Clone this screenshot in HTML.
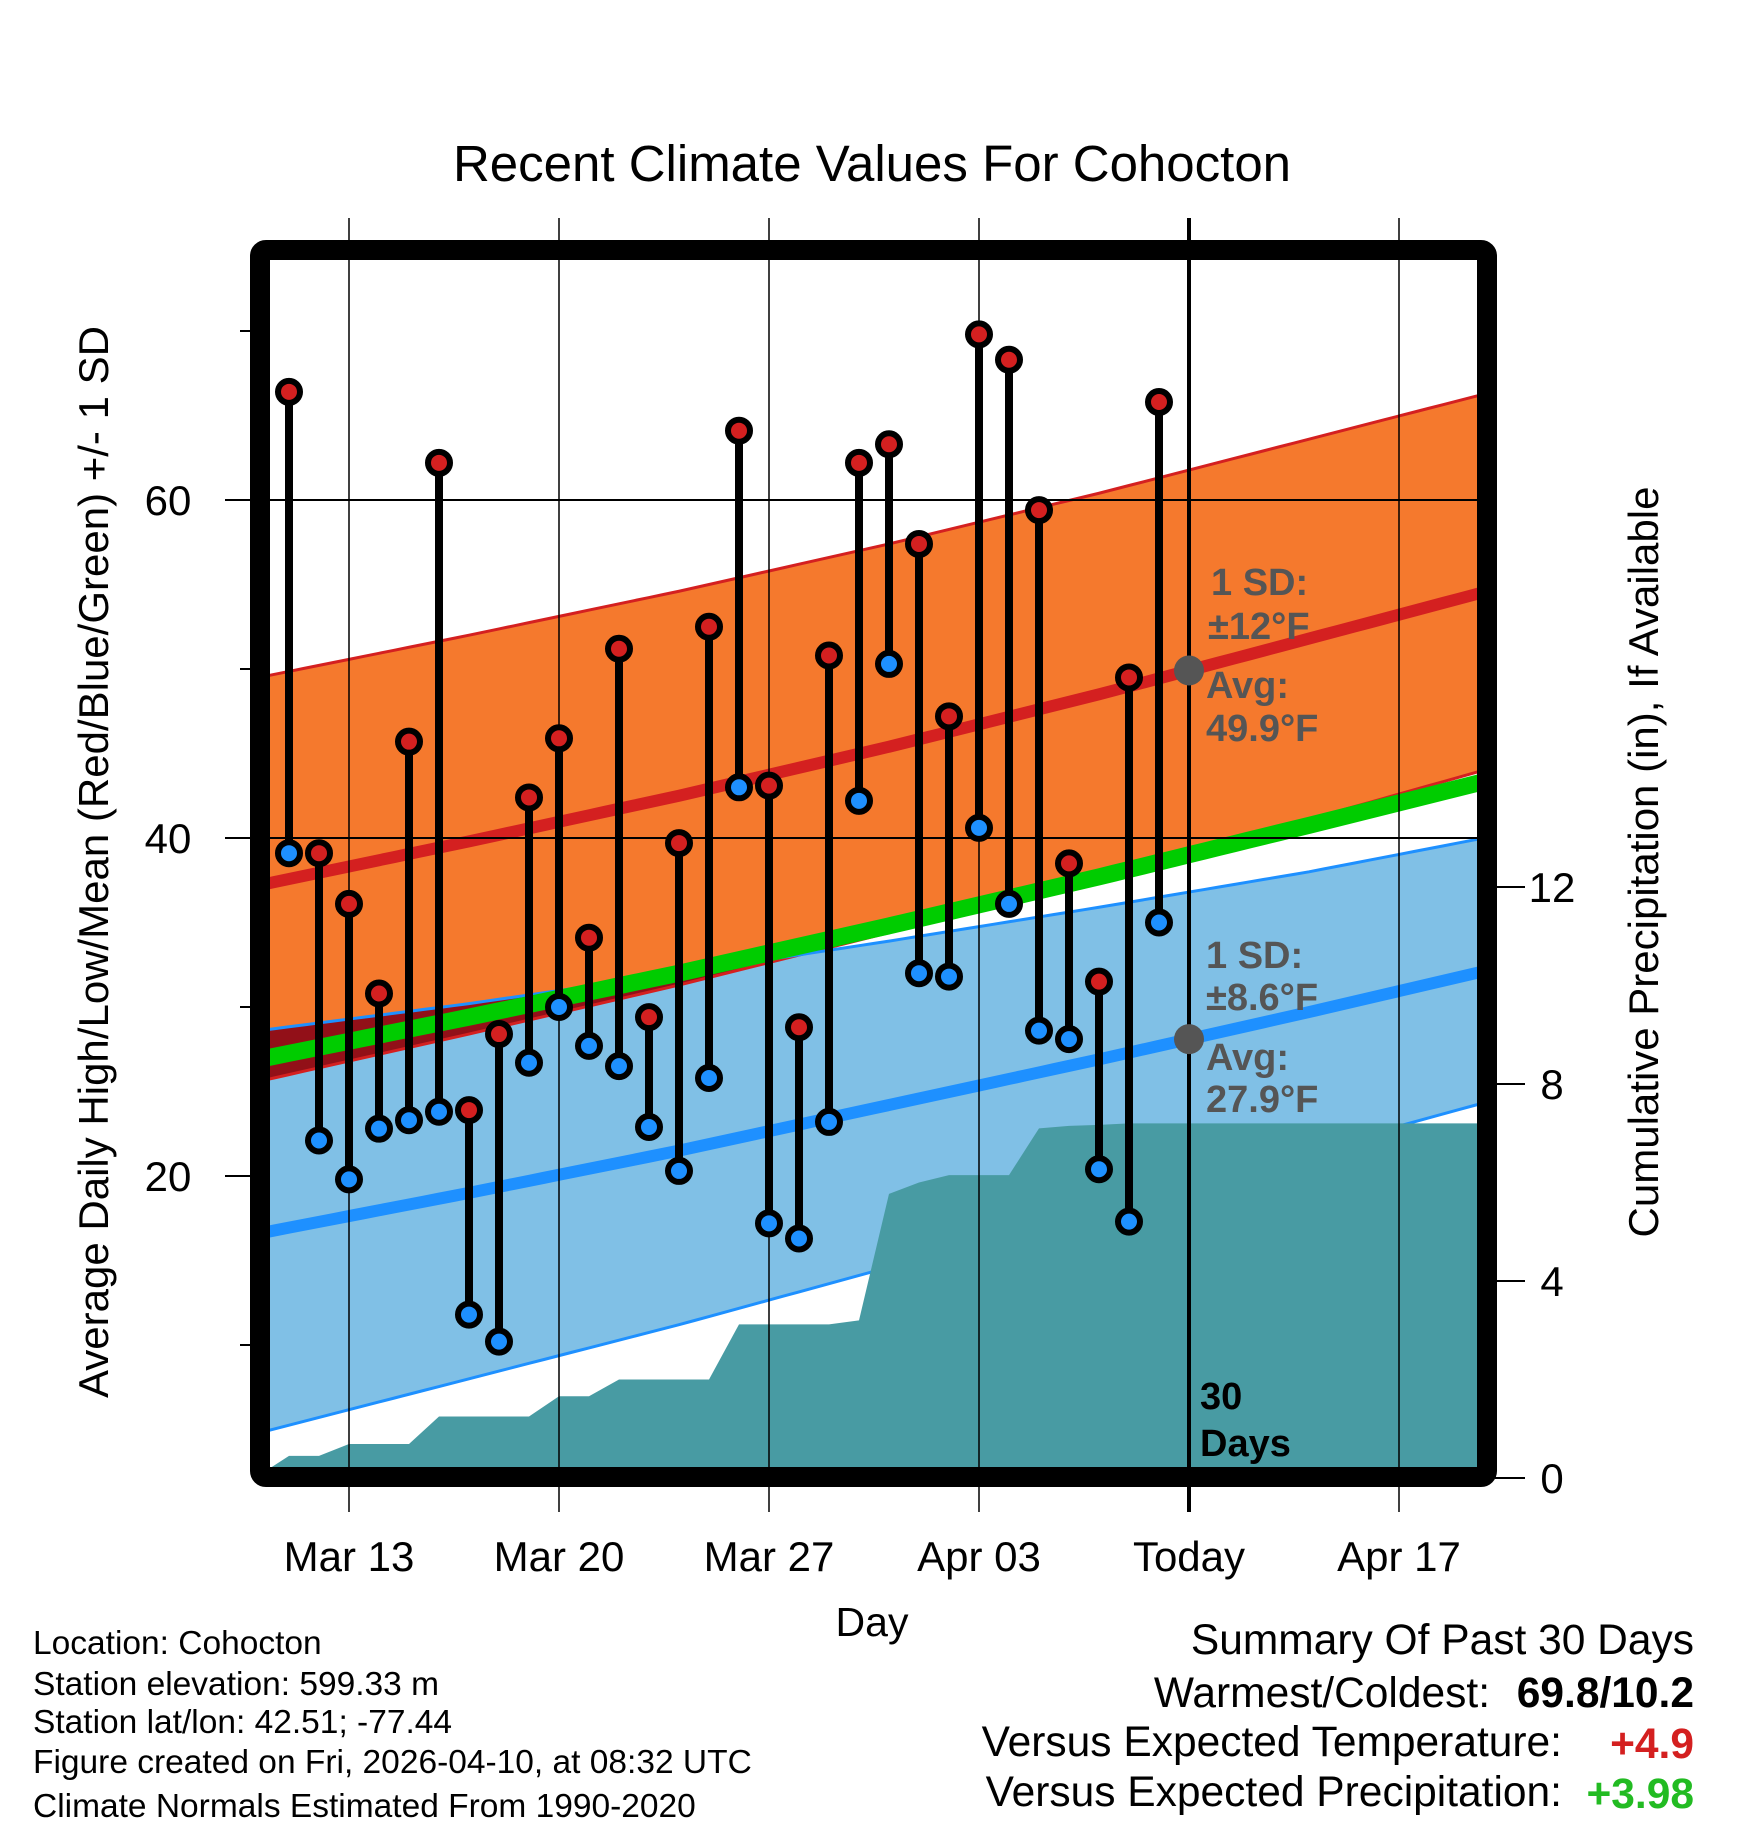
<!DOCTYPE html>
<html><head><meta charset="utf-8"><style>
html,body{margin:0;padding:0;background:#fff;}
svg{display:block;font-family:"Liberation Sans",Arial,sans-serif;}
</style></head><body>
<svg id="chart" width="1748" height="1828" viewBox="0 0 1748 1828" xmlns="http://www.w3.org/2000/svg">
<defs><clipPath id="plotclip"><rect x="270" y="260" width="1207" height="1207"/></clipPath></defs>
<text x="872" y="181" font-size="51" text-anchor="middle">Recent Climate Values For Cohocton</text>
<g id="plot" clip-path="url(#plotclip)"></g>
<g id="overlay"></g>
<rect x="260" y="250" width="1227" height="1227" fill="none" stroke="#000" stroke-width="20" rx="6"/>
<g id="axes"></g>
<text x="872" y="1636" font-size="41" text-anchor="middle">Day</text>
<text transform="translate(108,862) rotate(-90)" font-size="42" text-anchor="middle">Average Daily High/Low/Mean (Red/Blue/Green) +/- 1 SD</text>
<text transform="translate(1658,862) rotate(-90)" font-size="42" text-anchor="middle">Cumulative Precipitation (in), If Available</text>
<g font-size="33.5">
<text x="33" y="1654">Location: Cohocton</text>
<text x="33" y="1695">Station elevation: 599.33 m</text>
<text x="33" y="1733">Station lat/lon: 42.51; -77.44</text>
<text x="33" y="1773">Figure created on Fri, 2026-04-10, at 08:32 UTC</text>
<text x="33" y="1817">Climate Normals Estimated From 1990-2020</text>
</g>
<g font-size="42.5">
<text x="1694" y="1654" text-anchor="end">Summary Of Past 30 Days</text>
<text x="1490" y="1707" text-anchor="end">Warmest/Coldest:</text>
<text x="1694" y="1707" text-anchor="end" font-weight="bold">69.8/10.2</text>
<text x="1562" y="1756" text-anchor="end">Versus Expected Temperature:</text>
<text x="1694" y="1758" text-anchor="end" font-weight="bold" fill="#d42020">+4.9</text>
<text x="1562" y="1806" text-anchor="end">Versus Expected Precipitation:</text>
<text x="1694" y="1808" text-anchor="end" font-weight="bold" fill="#22bb22">+3.98</text>
</g>
</svg>
<script>
// Days relative to Mar 13 (=0). Observations Mar 11 .. Apr 9.
const obsDays = [-2,-1,0,1,2,3,4,5,6,7,8,9,10,11,12,13,14,15,16,17,18,19,20,21,22,23,24,25,26,27];
const highs = [66.4,39.1,36.1,30.8,45.7,62.2,23.9,28.4,42.4,45.9,34.1,51.2,29.4,39.7,52.5,64.1,43.1,28.8,50.8,62.2,63.3,57.4,47.2,69.8,68.3,59.4,38.5,31.5,49.5,65.8];
const lows  = [39.1,22.1,19.8,22.8,23.3,23.8,11.8,10.2,26.7,30.0,27.7,26.5,22.9,20.3,25.8,43.0,17.2,16.3,23.2,42.2,50.3,32.0,31.8,40.6,36.1,28.6,28.1,20.4,17.3,35.0];
const precip = [0.45,0.45,0.69,0.69,0.69,1.25,1.25,1.25,1.25,1.66,1.66,2.0,2.0,2.0,2.0,3.12,3.12,3.12,3.12,3.2,5.77,6.0,6.15,6.15,6.15,7.1,7.15,7.17,7.2,7.2];
const precipStart = 0.2;
// Normals at weekly days (Mar10, Mar17, Mar24, Mar31, Apr7, Apr14, Apr21)
const normDays = [-3,4,11,18,25,32,39];
const normHigh = [37.2,39.8,42.5,45.4,48.5,51.8,55.1];
const sdHighUp   = [12.3,12.2,12.1,12.0,11.9,11.8,11.7];
const sdHighDown = [11.6,11.4,11.2,11.0,10.9,10.7,10.5];
const normLow  = [16.6,19.0,21.5,24.2,26.9,29.7,32.6];
const sdLowUp   = [12.0,11.2,10.5,9.7,9.0,8.3,7.8];
const sdLowDown = [11.8,11.0,10.3,9.6,8.9,8.2,7.7];
const xTickDays = [0,7,14,21,28,35];
const xTickLabels = ["Mar 13","Mar 20","Mar 27","Apr 03","Today","Apr 17"];
const yMajor = [60,40,20];
const yMinor = [70,50,30,10];
const y2Ticks = [0,4,8,12];
const todayDay = 28;

const NS="http://www.w3.org/2000/svg";
const X = d => 349 + 30*d;
const Y = v => 838 - (v-40)*16.9;
const PY = p => 1478 - p*49.25;
const L = 270, R = 1477, T = 260, B = 1467;
function mk(tag, attrs, parent){const e=document.createElementNS(NS,tag);for(const k in attrs)e.setAttribute(k,attrs[k]);parent.appendChild(e);return e;}
function interp(arr, d){
  for(let i=0;i<normDays.length-1;i++){
    if(d<=normDays[i+1]||i===normDays.length-2){
      const t=(d-normDays[i])/(normDays[i+1]-normDays[i]);return arr[i]+t*(arr[i+1]-arr[i]);}
  }
}
const plot=document.getElementById('plot');
const overlay=document.getElementById('overlay');
const axes=document.getElementById('axes');
const samples=[];for(let d=-3.5;d<=40;d+=0.5)samples.push(d);
const hi=d=>interp(normHigh,d), lo=d=>interp(normLow,d);
const hU=d=>hi(d)+interp(sdHighUp,d), hL=d=>hi(d)-interp(sdHighDown,d);
const lU=d=>lo(d)+interp(sdLowUp,d), lL=d=>lo(d)-interp(sdLowDown,d);
function bandPath(fTop,fBot){let s=samples.map((d,i)=>(i?'L':'M')+X(d)+','+Y(fTop(d))).join(' ');s+=' '+samples.slice().reverse().map(d=>'L'+X(d)+','+Y(fBot(d))).join(' ');return s+' Z';}
function linePath(f){return samples.map((d,i)=>(i?'L':'M')+X(d)+','+Y(f(d))).join(' ');}

let e;
e=mk('path',{d:bandPath(hU,hL),fill:'#f5792d'},plot);


e=mk('path',{d:bandPath(lU,lL),fill:'#80c0e6'},plot);


e=mk('path',{d:bandPath(d=>Math.min(lU(d),Math.max(hL(d),lU(d))),d=>Math.min(hL(d),lU(d))),fill:'#921018'},plot);


// band edge lines
e=mk('path',{d:linePath(hU),fill:'none',stroke:'#d42020','stroke-width':3},plot);


e=mk('path',{d:linePath(hL),fill:'none',stroke:'#d42020','stroke-width':3},plot);


e=mk('path',{d:linePath(lU),fill:'none',stroke:'#1e90ff','stroke-width':3},plot);


e=mk('path',{d:linePath(lL),fill:'none',stroke:'#1e90ff','stroke-width':3},plot);


e=mk('path',{d:linePath(d=>(hi(d)+lo(d))/2),fill:'none',stroke:'#00cc00','stroke-width':17},plot);


e=mk('path',{d:linePath(hi),fill:'none',stroke:'#d42020','stroke-width':12},plot);


e=mk('path',{d:linePath(lo),fill:'none',stroke:'#1e90ff','stroke-width':12},plot);


// precipitation area (drawn over bands)
let pp='M'+L+','+PY(0)+' L'+L+','+PY(precipStart);
obsDays.forEach((d,i)=>{pp+=' L'+X(d)+','+PY(precip[i]);});
pp+=' L'+R+','+PY(precip[precip.length-1])+' L'+R+','+PY(0)+' Z';
e=mk('path',{d:pp,fill:'#489ba3'},plot);


// gridlines
[60,40].forEach(v=>{
  e=mk('line',{x1:225,x2:R,y1:Y(v),y2:Y(v),stroke:'#000','stroke-width':2},overlay);
  
  
});
xTickDays.forEach(d=>{
  e=mk('line',{x1:X(d),x2:X(d),y1:218,y2:1512,stroke:'#000','stroke-width':d===todayDay?4:1.5},overlay);
  
  
});
// stems and markers
obsDays.forEach((d,i)=>{
  e=mk('line',{x1:X(d),x2:X(d),y1:Y(highs[i]),y2:Y(lows[i]),stroke:'#000','stroke-width':8},overlay);
  
  
});
obsDays.forEach((d,i)=>{
  e=mk('circle',{cx:X(d),cy:Y(highs[i]),r:11,fill:'#d42020',stroke:'#000','stroke-width':6},overlay);
  
  
  e=mk('circle',{cx:X(d),cy:Y(lows[i]),r:11,fill:'#1e90ff',stroke:'#000','stroke-width':6},overlay);
  
  
});
// today avg markers
e=mk('circle',{cx:X(todayDay),cy:Y(hi(todayDay)),r:15,fill:'#555'},overlay);


e=mk('circle',{cx:X(todayDay),cy:Y(lo(todayDay)),r:15,fill:'#555'},overlay);


// annotations
const ann=[["1 SD:",1211,595,'sd-high-label'],["±12°F",1208,639,'sd-high-value'],["Avg:",1206,698,'avg-high-label'],["49.9°F",1206,741,'avg-high-value'],
["1 SD:",1206,968,'sd-low-label'],["±8.6°F",1206,1010,'sd-low-value'],["Avg:",1206,1070,'avg-low-label'],["27.9°F",1206,1112,'avg-low-value']];
ann.forEach(a=>{
  e=mk('text',{x:a[1],y:a[2],'font-size':38,'font-weight':'bold',fill:'#555'},overlay);
  e.textContent=a[0];
  
  
});
e=mk('text',{x:1200,y:1409,'font-size':38,'font-weight':'bold',fill:'#000'},overlay);e.textContent='30';


e=mk('text',{x:1200,y:1456,'font-size':38,'font-weight':'bold',fill:'#000'},overlay);e.textContent='Days';


// axes ticks
yMajor.forEach(v=>{
  e=mk('line',{x1:225,x2:252,y1:Y(v),y2:Y(v),stroke:'#000','stroke-width':2},axes);
  
  
  e=mk('text',{x:168,y:Y(v)+15,'font-size':42,'text-anchor':'middle'},axes);e.textContent=v;
  
  
});
yMinor.forEach(v=>{
  if(Y(v)<T||Y(v)>B)return;
  e=mk('line',{x1:240,x2:252,y1:Y(v),y2:Y(v),stroke:'#000','stroke-width':2},axes);
  
  
});
y2Ticks.forEach(p=>{
  e=mk('line',{x1:1495,x2:1525,y1:PY(p),y2:PY(p),stroke:'#000','stroke-width':2},axes);
  
  
  e=mk('text',{x:1552,y:PY(p)+15,'font-size':42,'text-anchor':'middle'},axes);e.textContent=p;
  
  
});
xTickDays.forEach((d,i)=>{
  e=mk('text',{x:X(d),y:1571,'font-size':42,'text-anchor':'middle'},axes);e.textContent=xTickLabels[i];
  
  
});
</script>
</body></html>
